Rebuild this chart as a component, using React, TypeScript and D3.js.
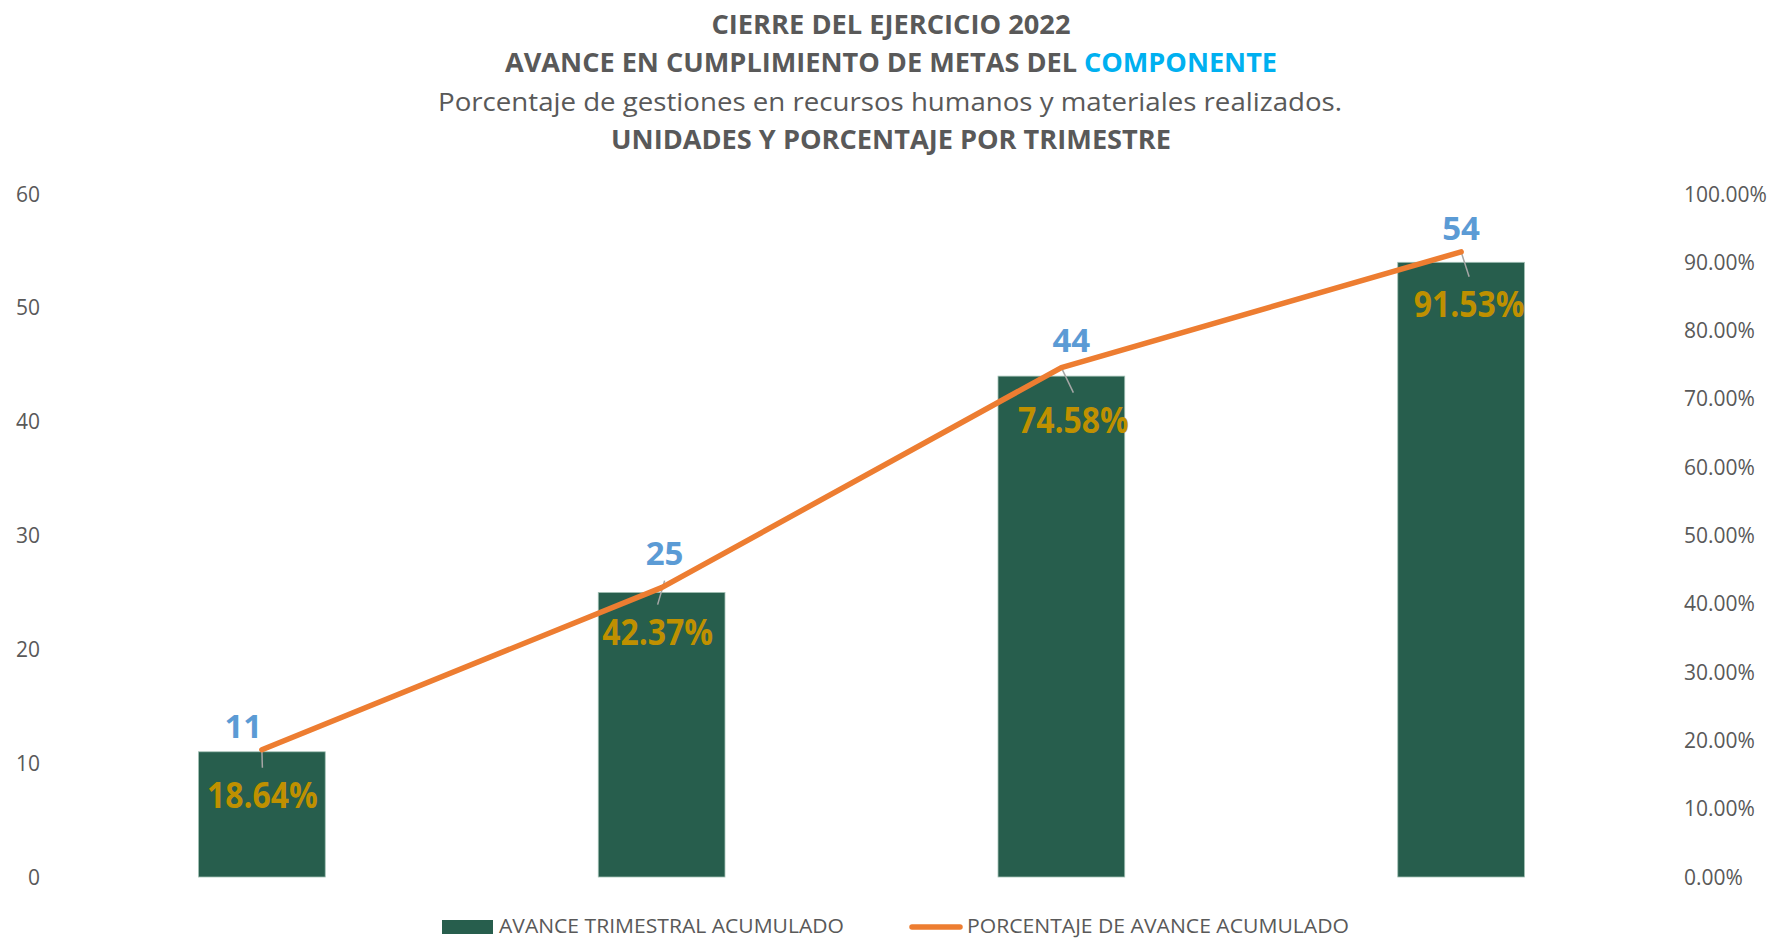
import React, { useEffect } from "react";
import * as d3 from "d3";

const categories = ["T1", "T2", "T3", "T4"];
const unitValues = [11, 25, 44, 54];
const pctValues = [0.1864, 0.4237, 0.7458, 0.9153];
const leftTicks = [0, 10, 20, 30, 40, 50, 60];
const rightTicks = [0, 0.1, 0.2, 0.3, 0.4, 0.5, 0.6, 0.7, 0.8, 0.9, 1.0];
const titleLine1 = "CIERRE DEL EJERCICIO 2022";
const titleLine2a = "AVANCE EN CUMPLIMIENTO DE METAS DEL ";
const titleLine2b = "COMPONENTE";
const titleLine3 = "Porcentaje de gestiones en recursos humanos y materiales realizados.";
const titleLine4 = "UNIDADES Y PORCENTAJE POR TRIMESTRE";
const legendBars = "AVANCE TRIMESTRAL ACUMULADO";
const legendLine = "PORCENTAJE DE AVANCE ACUMULADO";

// label layout offsets (relative to line points)
const valueLabelOffset = [[-18.5, -12], [3, -23], [10, -16], [0, -12]];
const pctLabelOffset = [[0.5, 58], [-4, 57], [12, 65], [8, 65]];
const leaderStartOffset = [[0, 0], [3, -7], [0, 0], [0, 0]];

const W = 1770;
const H = 939;
const FONT = "'Open Sans', 'Noto Sans', sans-serif";
const GRAY = "#595959";

export default function App() {
  useEffect(() => {
    document.body.style.margin = "0";
  }, []);

  const x = d3
    .scaleBand<string>()
    .domain(categories)
    .range([62, 1661])
    .paddingInner(0.683)
    .paddingOuter(0.3415);
  const y = d3.scaleLinear().domain([0, 60]).range([877, 194]);
  const y2 = d3.scaleLinear().domain([0, 1]).range([877, 194]);

  const pts: [number, number][] = categories.map((c, i) => [
    (x(c) as number) + x.bandwidth() / 2,
    y2(pctValues[i]),
  ]);
  const line = d3.line<[number, number]>().x((d) => d[0]).y((d) => d[1]);

  return (
    <svg
      width={W}
      height={H}
      style={{ position: "absolute", left: 0, top: 0, background: "#fff" }}
      fontFamily={FONT}
    >
      {/* Titles */}
      <text x={891} y={34} textAnchor="middle" fontSize={26} fontWeight={700} fill={GRAY}
        textLength={359} lengthAdjust="spacingAndGlyphs">{titleLine1}</text>
      <text x={505} y={72} fontSize={26} fontWeight={700} fill={GRAY}
        textLength={572} lengthAdjust="spacingAndGlyphs">{titleLine2a.trim()}</text>
      <text x={1084} y={72} fontSize={26} fontWeight={700} fill="#00B0F0"
        textLength={193} lengthAdjust="spacingAndGlyphs">{titleLine2b}</text>
      <text x={890} y={111} textAnchor="middle" fontSize={26} fontWeight={400} fill={GRAY}
        textLength={904} lengthAdjust="spacingAndGlyphs">{titleLine3}</text>
      <text x={891} y={149} textAnchor="middle" fontSize={26} fontWeight={700} fill={GRAY}
        textLength={560} lengthAdjust="spacingAndGlyphs">{titleLine4}</text>

      {/* Left axis */}
      {leftTicks.map((t) => (
        <text key={"l" + t} x={40} y={y(t)} dy="0.36em" textAnchor="end" fontSize={21} fill={GRAY}>
          {t}
        </text>
      ))}
      {/* Right axis */}
      {rightTicks.map((t) => (
        <text key={"r" + t} x={1684} y={y2(t)} dy="0.36em" textAnchor="start" fontSize={21} fill={GRAY}>
          {d3.format(".2%")(t)}
        </text>
      ))}

      {/* Bars */}
      {categories.map((c, i) => (
        <rect
          key={c}
          x={x(c)}
          y={y(unitValues[i])}
          width={x.bandwidth()}
          height={y(0) - y(unitValues[i])}
          fill="#275E4D"
          stroke="#a3c1b5"
          strokeWidth={0.8}
        />
      ))}

      {/* Leader lines */}
      {pts.map((p, i) => (
        <line
          key={"ld" + i}
          x1={p[0] + leaderStartOffset[i][0]}
          y1={p[1] + leaderStartOffset[i][1]}
          x2={p[0] + pctLabelOffset[i][0]}
          y2={p[1] + pctLabelOffset[i][1] - 40}
          stroke="#A6A6A6"
          strokeWidth={1.5}
        />
      ))}

      {/* Line */}
      <path d={line(pts) || ""} fill="none" stroke="#ED7D31" strokeWidth={5.5}
        strokeLinejoin="round" strokeLinecap="round" />

      {/* Value labels */}
      {pts.map((p, i) => (
        <text key={"v" + i} x={p[0] + valueLabelOffset[i][0]} y={p[1] + valueLabelOffset[i][1]}
          textAnchor="middle" fontSize={33} fontWeight={700} fill="#5B9BD5">
          {unitValues[i]}
        </text>
      ))}
      {/* Percent labels */}
      {pts.map((p, i) => (
        <text key={"p" + i} x={p[0] + pctLabelOffset[i][0]} y={p[1] + pctLabelOffset[i][1]}
          textAnchor="middle" fontSize={35} fontWeight={700} fill="#BF9000"
          textLength={111} lengthAdjust="spacingAndGlyphs">
          {d3.format(".2%")(pctValues[i])}
        </text>
      ))}

      {/* Legend */}
      <rect x={442} y={920} width={51} height={14} fill="#275E4D" />
      <text x={499} y={933} fontSize={20} fill={GRAY} textLength={345} lengthAdjust="spacingAndGlyphs">
        {legendBars}
      </text>
      <line x1={912} x2={960} y1={927} y2={927} stroke="#ED7D31" strokeWidth={5.5} strokeLinecap="round" />
      <text x={967} y={933} fontSize={20} fill={GRAY} textLength={382} lengthAdjust="spacingAndGlyphs">
        {legendLine}
      </text>
    </svg>
  );
}
